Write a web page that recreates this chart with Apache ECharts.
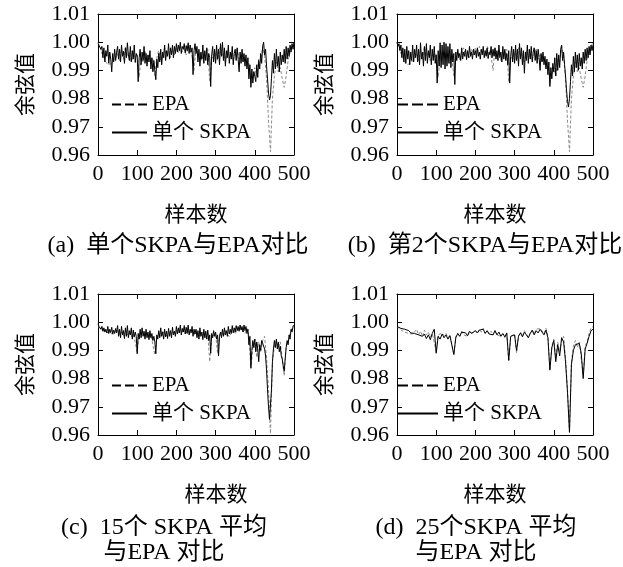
<!DOCTYPE html>
<html>
<head>
<meta charset="utf-8">
<script src="https://cdn.jsdelivr.net/npm/echarts@6/dist/echarts.min.js"></script>
<style>
html,body{margin:0;padding:0;background:#fff;}
#chart{width:623px;height:567px;}
</style>
</head>
<body>
<div id="chart"></div>
<script>
// x range covered by every series: values are evenly spaced samples over [0, 500]
const sampleRange = [0, 500];
const xTicks = [0, 100, 200, 300, 400, 500];
const yTicks = [0.96, 0.97, 0.98, 0.99, 1.00, 1.01];

// EPA reference used in panels (a),(b)  (every 5 samples)
const epaAB = [
 0.9998,0.9985,0.9960,0.9945,0.9930,0.9920,0.9915,0.9925,0.9935,0.9945,
 0.9960,0.9935,0.9970,0.9940,0.9985,0.9950,0.9965,0.9930,0.9955,0.9945,
 0.9960,0.9875,0.9945,0.9930,0.9970,0.9940,0.9955,0.9925,0.9940,0.9880,
 0.9945,0.9970,0.9935,0.9960,0.9980,0.9950,0.9965,0.9945,0.9975,0.9955,
 0.9980,0.9960,0.9985,0.9965,0.9975,0.9955,0.9985,0.9970,0.9950,0.9900,
 0.9980,0.9945,0.9965,0.9935,0.9960,0.9950,0.9975,0.9860,0.9950,0.9940,
 0.9965,0.9935,0.9980,0.9950,0.9960,0.9930,0.9970,0.9945,0.9960,0.9940,
 0.9955,0.9975,0.9940,0.9955,0.9930,0.9945,0.9915,0.9925,0.9855,0.9880,
 0.9910,0.9880,0.9940,0.9930,0.9985,0.9950,0.9870,0.9720,0.9612,0.9800,
 0.9880,0.9930,0.9895,0.9910,0.9870,0.9840,0.9880,0.9935,0.9965,0.9990,
 0.9995
];
// (a) single SKPA  (every 2.5 samples)
const skpaA = [
 0.9995,0.9990,0.9998,0.9975,0.9985,0.9945,0.9980,0.9930,0.9970,0.9950,
 0.9990,0.9925,0.9965,0.9940,0.9895,0.9960,0.9930,0.9975,0.9935,0.9965,
 0.9985,0.9940,0.9975,0.9930,0.9990,0.9950,0.9968,0.9925,0.9980,0.9945,
 0.9998,0.9955,0.9935,0.9985,0.9930,0.9970,0.9940,0.9990,0.9928,0.9960,
 0.9950,0.9860,0.9945,0.9975,0.9920,0.9965,0.9935,0.9985,0.9925,0.9960,
 0.9915,0.9955,0.9930,0.9970,0.9905,0.9945,0.9895,0.9935,0.9900,0.9867,
 0.9940,0.9910,0.9960,0.9930,0.9975,0.9920,0.9965,0.9945,0.9990,0.9935,
 0.9970,0.9950,0.9995,0.9940,0.9980,0.9955,0.9990,0.9945,0.9985,0.9960,
 0.9995,0.9965,0.9990,0.9970,1.0000,0.9960,0.9985,0.9975,0.9995,0.9962,
 0.9988,0.9970,0.9998,0.9960,0.9990,0.9965,0.9980,0.9885,0.9970,0.9995,
 0.9960,0.9985,0.9930,0.9975,0.9915,0.9965,0.9940,0.9990,0.9925,0.9970,
 0.9935,0.9980,0.9920,0.9960,0.9945,0.9843,0.9955,0.9985,0.9930,0.9975,
 0.9925,0.9990,0.9940,0.9975,0.9920,0.9995,0.9950,1.0000,0.9935,0.9980,
 0.9915,0.9970,0.9945,0.9990,0.9925,0.9965,0.9940,0.9985,0.9920,0.9960,
 0.9975,0.9935,0.9980,0.9940,0.9895,0.9965,0.9925,0.9975,0.9930,0.9960,
 0.9915,0.9955,0.9905,0.9945,0.9870,0.9920,0.9840,0.9905,0.9855,0.9895,
 0.9880,0.9860,0.9920,0.9875,0.9935,0.9905,0.9960,0.9925,0.9985,1.0000,
 0.9955,0.9975,0.9915,0.9870,0.9820,0.9795,0.9810,0.9870,0.9935,0.9890,
 0.9960,0.9905,0.9975,0.9915,0.9950,0.9895,0.9965,0.9920,0.9955,0.9930,
 0.9975,0.9925,0.9985,0.9940,0.9980,0.9950,0.9990,0.9965,0.9995,0.9975,
 1.0000
];
// (b) 2nd SKPA  (every 2.5 samples)
const skpaB = [
 1.0000,0.9985,0.9995,0.9970,0.9990,0.9945,0.9980,0.9930,0.9975,0.9925,
 0.9985,0.9940,0.9970,0.9920,0.9965,0.9935,0.9990,0.9930,0.9975,0.9945,
 0.9990,0.9930,0.9975,0.9920,0.9998,0.9940,0.9965,0.9915,0.9985,0.9935,
 0.9995,0.9925,0.9970,0.9945,0.9990,0.9920,0.9975,0.9935,0.9985,0.9925,
 0.9955,0.9855,0.9970,0.9915,0.9998,0.9910,0.9990,0.9920,1.0000,0.9905,
 0.9995,0.9915,0.9985,0.9925,0.9995,0.9910,0.9975,0.9930,0.9960,0.9850,
 0.9965,0.9935,0.9975,0.9945,0.9960,0.9935,0.9980,0.9940,0.9965,0.9950,
 0.9975,0.9938,0.9970,0.9945,0.9985,0.9950,0.9965,0.9940,0.9975,0.9955,
 0.9970,0.9945,0.9980,0.9950,0.9965,0.9940,0.9975,0.9955,0.9985,0.9945,
 0.9970,0.9950,0.9980,0.9942,0.9965,0.9955,0.9985,0.9945,0.9975,0.9950,
 0.9980,0.9940,0.9970,0.9935,0.9990,0.9945,0.9965,0.9930,0.9985,0.9940,
 0.9975,0.9935,0.9960,0.9920,0.9970,0.9855,0.9950,0.9985,0.9930,0.9975,
 0.9925,0.9990,0.9935,0.9975,0.9915,0.9995,0.9940,0.9980,0.9920,0.9970,
 0.9890,0.9965,0.9935,0.9990,0.9925,0.9975,0.9940,0.9985,0.9930,0.9965,
 0.9980,0.9935,0.9970,0.9925,0.9975,0.9945,0.9900,0.9960,0.9930,0.9965,
 0.9920,0.9950,0.9905,0.9940,0.9885,0.9930,0.9843,0.9910,0.9870,0.9925,
 0.9895,0.9945,0.9880,0.9960,0.9900,0.9955,0.9910,0.9975,0.9990,0.9935,
 0.9965,0.9920,0.9880,0.9830,0.9790,0.9770,0.9800,0.9860,0.9920,0.9880,
 0.9950,0.9895,0.9965,0.9910,0.9955,0.9900,0.9960,0.9915,0.9945,0.9905,
 0.9965,0.9925,0.9975,0.9935,0.9980,0.9945,0.9985,0.9955,0.9990,0.9970,
 0.9990
];
// EPA reference used in panels (c),(d)  (every 5 samples)
const epaCD = [
 0.9985,0.9978,0.9972,0.9970,0.9965,0.9966,0.9960,0.9965,0.9958,0.9962,
 0.9975,0.9955,0.9968,0.9950,0.9972,0.9955,0.9965,0.9948,0.9960,0.9955,
 0.9895,0.9955,0.9948,0.9962,0.9952,0.9960,0.9945,0.9955,0.9948,0.9885,
 0.9950,0.9960,0.9948,0.9968,0.9955,0.9962,0.9950,0.9965,0.9958,0.9962,
 0.9970,0.9960,0.9975,0.9965,0.9978,0.9962,0.9970,0.9958,0.9968,0.9955,
 0.9970,0.9955,0.9962,0.9950,0.9958,0.9945,0.9960,0.9860,0.9950,0.9945,
 0.9958,0.9890,0.9952,0.9965,0.9950,0.9970,0.9958,0.9948,0.9962,0.9970,
 0.9958,0.9975,0.9970,0.9978,0.9975,0.9960,0.9978,0.9950,0.9835,0.9915,
 0.9940,0.9875,0.9930,0.9895,0.9935,0.9950,0.9870,0.9760,0.9605,0.9860,
 0.9915,0.9935,0.9910,0.9930,0.9870,0.9810,0.9915,0.9930,0.9960,0.9980,
 0.9985
];
// (c) mean of 15 SKPA  (every 2.5 samples)
const skpaC = [
 0.9995,0.9985,0.9990,0.9975,0.9985,0.9968,0.9980,0.9965,0.9975,0.9962,
 0.9985,0.9960,0.9975,0.9963,0.9982,0.9958,0.9972,0.9960,0.9978,0.9962,
 0.9988,0.9950,0.9975,0.9945,0.9985,0.9955,0.9970,0.9942,0.9980,0.9950,
 0.9988,0.9945,0.9970,0.9955,0.9980,0.9940,0.9972,0.9948,0.9965,0.9950,
 0.9888,0.9960,0.9940,0.9975,0.9945,0.9980,0.9950,0.9968,0.9940,0.9975,
 0.9945,0.9965,0.9938,0.9970,0.9945,0.9960,0.9935,0.9950,0.9930,0.9888,
 0.9955,0.9940,0.9970,0.9945,0.9980,0.9950,0.9965,0.9940,0.9975,0.9948,
 0.9968,0.9942,0.9978,0.9950,0.9970,0.9945,0.9982,0.9955,0.9968,0.9950,
 0.9985,0.9958,0.9980,0.9962,0.9990,0.9955,0.9978,0.9965,0.9988,0.9958,
 0.9982,0.9960,0.9990,0.9955,0.9975,0.9962,0.9985,0.9950,0.9975,0.9958,
 0.9975,0.9945,0.9970,0.9940,0.9980,0.9950,0.9965,0.9938,0.9975,0.9945,
 0.9968,0.9940,0.9972,0.9935,0.9955,0.9890,0.9960,0.9945,0.9970,0.9950,
 0.9965,0.9940,0.9955,0.9880,0.9950,0.9965,0.9945,0.9975,0.9950,0.9980,
 0.9955,0.9970,0.9950,0.9985,0.9958,0.9975,0.9960,0.9988,0.9962,0.9980,
 0.9965,0.9988,0.9970,0.9985,0.9968,0.9990,0.9972,0.9985,0.9965,0.9990,
 0.9970,0.9985,0.9960,0.9975,0.9920,0.9950,0.9838,0.9900,0.9935,0.9910,
 0.9940,0.9895,0.9930,0.9905,0.9860,0.9920,0.9900,0.9935,0.9940,0.9938,
 0.9905,0.9880,0.9830,0.9760,0.9700,0.9655,0.9660,0.9760,0.9860,0.9905,
 0.9935,0.9910,0.9940,0.9905,0.9930,0.9895,0.9915,0.9880,0.9870,0.9845,
 0.9826,0.9870,0.9910,0.9935,0.9920,0.9955,0.9940,0.9975,0.9965,0.9985,
 0.9990
];
// (d) mean of 25 SKPA  (every 5 samples)
const skpaD = [
 0.9985,0.9980,0.9978,0.9972,0.9975,0.9968,0.9970,0.9962,0.9968,0.9960,
 0.9965,0.9955,0.9962,0.9950,0.9958,0.9942,0.9955,0.9938,0.9960,0.9975,
 0.9890,0.9950,0.9940,0.9958,0.9945,0.9955,0.9940,0.9952,0.9945,0.9885,
 0.9945,0.9960,0.9950,0.9965,0.9958,0.9962,0.9952,0.9968,0.9960,0.9965,
 0.9970,0.9962,0.9972,0.9965,0.9975,0.9960,0.9970,0.9958,0.9965,0.9955,
 0.9970,0.9955,0.9965,0.9950,0.9960,0.9948,0.9962,0.9865,0.9950,0.9948,
 0.9955,0.9900,0.9950,0.9962,0.9948,0.9965,0.9955,0.9945,0.9960,0.9972,
 0.9955,0.9970,0.9962,0.9975,0.9968,0.9955,0.9972,0.9945,0.9830,0.9910,
 0.9935,0.9860,0.9920,0.9880,0.9945,0.9930,0.9860,0.9750,0.9610,0.9850,
 0.9900,0.9920,0.9915,0.9925,0.9890,0.9800,0.9905,0.9925,0.9950,0.9970,
 0.9975
];

const panelEPA = [epaAB, epaAB, epaCD, epaCD];
const panelSKPA = [skpaA, skpaB, skpaC, skpaD];
const legendNames = ['EPA', '单个 SKPA'];
const xName = '样本数';
const yName = '余弦值';
const captions = [
  ['(a)  单个SKPA与EPA对比'],
  ['(b)  第2个SKPA与EPA对比'],
  ['(c)  15个 SKPA 平均', '与EPA 对比'],
  ['(d)  25个SKPA 平均', '与EPA 对比']
];

const FONT = '"Liberation Serif","Times New Roman","Noto Sans CJK SC",serif';
const grids = [
  {left: 98, top: 14, width: 196, height: 141},
  {left: 397, top: 14, width: 196, height: 141},
  {left: 98, top: 294, width: 196, height: 141},
  {left: 397, top: 294, width: 196, height: 141}
];
const legendPos = [
  {left: 112, top: 94, w: 35},
  {left: 397, top: 94, w: 41},
  {left: 112, top: 375, w: 35},
  {left: 397, top: 375, w: 41}
];
const xNameShift = [0, 0, 40, 0];
const capPos = [
  {x: 178, y: [246]},
  {x: 485, y: [246]},
  {x: 164, y: [528, 553]},
  {x: 476, y: [528, 553]}
];

function pairs(arr) {
  const step = (sampleRange[1] - sampleRange[0]) / (arr.length - 1);
  return arr.map((v, i) => [sampleRange[0] + i * step, v]);
}
function dashIcon(w) {
  const d = (w - 8) / 3;
  let p = 'path://';
  for (let i = 0; i < 3; i++) {
    const x0 = i * (d + 4);
    p += 'M' + x0 + ',0h' + d + 'v2h-' + d + 'z ';
  }
  return p;
}
function solidIcon(w) { return 'path://M0,0h' + w + 'v2h-' + w + 'z'; }

const xAxes = [], yAxes = [], series = [], legends = [], graphics = [];
grids.forEach((g, k) => {
  const lineCol = '#000';
  xAxes.push({
    gridIndex: k, type: 'value', min: xTicks[0], max: xTicks[xTicks.length - 1], interval: 100,
    position: 'bottom',
    axisLine: {show: true, onZero: false, lineStyle: {color: lineCol, width: 1}},
    axisTick: {show: true, inside: true, length: 5, lineStyle: {color: lineCol}},
    axisLabel: {show: true, color: '#000', fontFamily: FONT, fontSize: 22, margin: 8},
    splitLine: {show: false},
    name: xName, nameLocation: 'middle', nameGap: 50,
    nameTextStyle: {color: '#000', fontFamily: FONT, fontSize: 21, padding: [0, 0, 0, xNameShift[k]]}
  });
  xAxes.push({
    gridIndex: k, type: 'value', min: 0, max: 500, interval: 100, position: 'top',
    axisLine: {show: true, onZero: false, lineStyle: {color: lineCol, width: 1}},
    axisTick: {show: true, inside: true, length: 5, lineStyle: {color: lineCol}},
    axisLabel: {show: false}, splitLine: {show: false}
  });
  yAxes.push({
    gridIndex: k, type: 'value', min: yTicks[0], max: yTicks[yTicks.length - 1], interval: 0.01,
    position: 'left',
    axisLine: {show: true, onZero: false, lineStyle: {color: lineCol, width: 1}},
    axisTick: {show: true, inside: true, length: 5, lineStyle: {color: lineCol}},
    axisLabel: {show: true, color: '#000', fontFamily: FONT, fontSize: 22, margin: 8,
      formatter: v => v.toFixed(2)},
    splitLine: {show: false},
    name: yName, nameLocation: 'middle', nameGap: 61, nameRotate: 90,
    nameTextStyle: {color: '#000', fontFamily: FONT, fontSize: 21}
  });
  yAxes.push({
    gridIndex: k, type: 'value', min: 0.96, max: 1.01, interval: 0.01, position: 'right',
    axisLine: {show: true, onZero: false, lineStyle: {color: lineCol, width: 1}},
    axisTick: {show: true, inside: true, length: 5, lineStyle: {color: lineCol}},
    axisLabel: {show: false}, splitLine: {show: false}
  });
  series.push({
    type: 'line', name: legendNames[0], xAxisIndex: 2 * k, yAxisIndex: 2 * k,
    data: pairs(panelEPA[k]), symbol: 'none', showSymbol: false,
    itemStyle: {color: '#8a8a8a'},
    lineStyle: {color: '#8a8a8a', width: 1, type: [3, 2]}, z: 2
  });
  series.push({
    type: 'line', name: legendNames[1], xAxisIndex: 2 * k, yAxisIndex: 2 * k,
    data: pairs(panelSKPA[k]), symbol: 'none', showSymbol: false,
    itemStyle: {color: '#000'},
    lineStyle: {color: '#000', width: 1}, z: 3
  });
  const lp = legendPos[k];
  legends.push({
    left: lp.left, top: lp.top, orient: 'vertical', itemGap: 7, padding: 0,
    itemWidth: lp.w, itemHeight: 2,
    textStyle: {color: '#000', fontFamily: FONT, fontSize: 21},
    selectedMode: false,
    data: [
      {name: legendNames[0], icon: dashIcon(lp.w), itemStyle: {color: '#000'}},
      {name: legendNames[1], icon: solidIcon(lp.w), itemStyle: {color: '#000'}}
    ]
  });
  const cp = capPos[k];
  captions[k].forEach((t, j) => {
    graphics.push({
      type: 'text', x: cp.x, y: cp.y[j],
      style: {text: t, fill: '#000', font: '24px ' + FONT, textAlign: 'center', textVerticalAlign: 'middle'}
    });
  });
});

const chart = echarts.init(document.getElementById('chart'), null, {renderer: 'canvas'});
chart.setOption({
  animation: false,
  backgroundColor: '#fff',
  grid: grids.map(g => Object.assign({containLabel: false}, g)),
  xAxis: xAxes,
  yAxis: yAxes,
  legend: legends,
  series: series,
  graphic: graphics
});
</script>
</body>
</html>
